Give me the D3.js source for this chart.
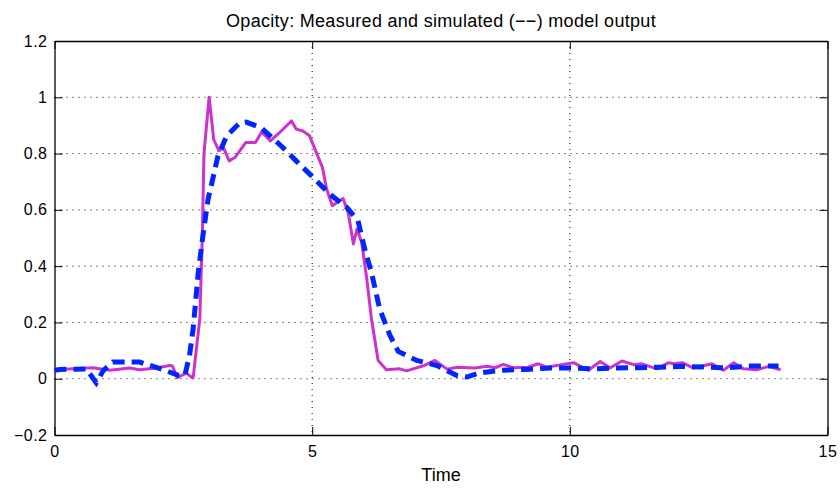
<!DOCTYPE html>
<html lang="en">
<head>
<meta charset="UTF-8">
<title>Opacity: Measured and simulated model output</title>
<script src="https://cdnjs.cloudflare.com/ajax/libs/d3/7.8.5/d3.min.js"></script>
<style>
    body { margin: 0; background: #fff; }
    text { font-family: "Liberation Sans", Arial, Helvetica, sans-serif; fill: #000; }
    .grid line { stroke: #000; stroke-width: 1; stroke-dasharray: 1,5; }
</style>
</head>
<body>
<div id="chart"></div>
<script>
    // measured opacity (solid magenta)
    const measuredTime = [0, 0.1, 0.74, 1.07, 1.46, 1.65, 1.98, 2.23, 2.29, 2.38, 2.56, 2.67, 2.69,
        2.82, 2.87, 2.9, 3.0, 3.09, 3.19, 3.28, 3.39, 3.5, 3.71, 3.9, 4.02, 4.19, 4.37, 4.6, 4.69,
        4.82, 4.95, 5.2, 5.28, 5.39, 5.6, 5.7, 5.8, 5.87, 5.96, 6.06, 6.15, 6.28, 6.44, 6.7, 6.83,
        7.16, 7.38, 7.62, 7.82, 8.16, 8.39, 8.55, 8.71, 8.9, 9.19, 9.39, 9.55, 9.84, 10.07, 10.36,
        10.59, 10.78, 11.01, 11.24, 11.4, 11.69, 11.92, 12.02, 12.18, 12.4, 12.76, 12.98, 13.18,
        13.37, 13.63, 13.86, 14.09];
    const measuredValue = [0.03, 0.033, 0.039, 0.03, 0.038, 0.032, 0.038, 0.047, 0.045, 0.004, 0.02, 0.004, 0.003,
        0.213, 0.52, 0.8, 1.0, 0.85, 0.81, 0.82, 0.774, 0.786, 0.839, 0.839, 0.877, 0.845, 0.875, 0.916, 0.887,
        0.88, 0.863, 0.75, 0.674, 0.615, 0.64, 0.59, 0.479, 0.532, 0.485, 0.355, 0.213, 0.065, 0.032, 0.035, 0.028,
        0.046, 0.065, 0.034, 0.041, 0.038, 0.044, 0.039, 0.051, 0.039, 0.041, 0.053, 0.041, 0.05, 0.057, 0.03,
        0.061, 0.038, 0.063, 0.05, 0.053, 0.035, 0.057, 0.053, 0.057, 0.038, 0.053, 0.03, 0.057,
        0.035, 0.032, 0.044, 0.032];

    // simulated model output (dashed blue)
    const simTime = [0, 0.1, 0.62, 0.81, 0.95, 1.13, 1.65, 2.1, 2.4, 2.53, 2.62, 2.69, 2.79, 2.88, 2.98,
        3.07, 3.17, 3.34, 3.59, 3.72, 4.01, 4.4, 4.69, 5.02, 5.34, 5.67, 5.89, 6.02, 6.15, 6.31, 6.51,
        6.67, 7.03, 7.42, 7.8, 8.0, 8.26, 8.65, 9.16, 9.62, 10.0, 10.46, 10.88, 11.33, 11.75, 12.21,
        12.63, 13.05, 13.5, 13.92, 14.05];
    const simValue = [0.03, 0.033, 0.035, -0.015, 0.03, 0.059, 0.059, 0.033, 0.012, 0.012, 0.083, 0.177, 0.378, 0.508, 0.638,
        0.709, 0.79, 0.863, 0.908, 0.912, 0.892, 0.827, 0.774, 0.715, 0.656, 0.609, 0.561, 0.461, 0.378, 0.248, 0.154,
        0.097, 0.065, 0.047, 0.012, 0.006, 0.021, 0.03, 0.033, 0.038, 0.038, 0.035, 0.038, 0.039, 0.041, 0.044,
        0.041, 0.039, 0.045, 0.045, 0.045];

    const xTicks = [0, 5, 10, 15];
    const yTicks = [-0.2, 0, 0.2, 0.4, 0.6, 0.8, 1, 1.2];

    const width = 840, height = 488;
    const margin = {top: 41, right: 12.5, bottom: 53, left: 54.5};
    const w = width - margin.left - margin.right;
    const h = height - margin.top - margin.bottom;

    const svg = d3.select("#chart").append("svg")
        .attr("width", width)
        .attr("height", height);

    const g = svg.append("g")
        .attr("transform", "translate(" + margin.left + "," + margin.top + ")");

    const x = d3.scaleLinear().domain([0, 15]).range([0, w]);
    const y = d3.scaleLinear().domain([-0.2, 1.2]).range([h, 0]);

    // dotted grid
    g.append("g").attr("class", "grid")
        .selectAll("line").data(xTicks.slice(1, -1)).enter().append("line")
        .attr("x1", d => x(d)).attr("x2", d => x(d))
        .attr("y1", 0).attr("y2", h);
    g.append("g").attr("class", "grid")
        .selectAll("line").data(yTicks.slice(1, -1)).enter().append("line")
        .attr("y1", d => y(d)).attr("y2", d => y(d))
        .attr("x1", 0).attr("x2", w);

    // axes, matlab style: ticks point inward, box on
    const fmt = d => d < 0 ? "\u2212" + Math.abs(d) : String(d);

    const xAxis = g.append("g")
        .attr("transform", "translate(0," + h + ")")
        .call(d3.axisBottom(x).tickValues(xTicks).tickSizeInner(-8).tickSizeOuter(0).tickPadding(11).tickFormat(fmt));
    const xTop = g.append("g")
        .call(d3.axisTop(x).tickValues(xTicks).tickSizeInner(-8).tickSizeOuter(0).tickFormat(""));
    const yAxis = g.append("g")
        .call(d3.axisLeft(y).tickValues(yTicks).tickSizeInner(-8).tickSizeOuter(0).tickPadding(7).tickFormat(fmt));
    const yRight = g.append("g")
        .attr("transform", "translate(" + w + ",0)")
        .call(d3.axisRight(y).tickValues(yTicks).tickSizeInner(-8).tickSizeOuter(0).tickFormat(""));

    [xAxis, xTop, yAxis, yRight].forEach(a => {
        a.select(".domain").attr("stroke", "#000").attr("stroke-width", 1.3);
        a.selectAll(".tick line").attr("stroke", "#000");
        a.selectAll("text").style("font-size", "16px").style("letter-spacing", "0.5px").attr("fill", "#000");
    });

    // measured
    const measured = measuredTime.map((t, i) => [t, measuredValue[i]]);
    const simulated = simTime.map((t, i) => [t, simValue[i]]);
    const line = d3.line().x(d => x(d[0])).y(d => y(d[1]));

    g.append("path")
        .datum(measured)
        .attr("fill", "none")
        .attr("stroke", "#cc33cc")
        .attr("stroke-width", 3)
        .attr("stroke-linejoin", "round")
        .attr("d", line);

    g.append("path")
        .datum(simulated)
        .attr("fill", "none")
        .attr("stroke", "#0026ff")
        .attr("stroke-width", 5)
        .attr("stroke-dasharray", "12,7")
        .attr("d", line);

    // labels
    svg.append("text")
        .attr("x", margin.left + w / 2)
        .attr("y", 26.5)
        .attr("text-anchor", "middle")
        .style("font-size", "18px")
        .style("letter-spacing", "0.3px")
        .text("Opacity: Measured and simulated (\u2212\u2212) model output");

    svg.append("text")
        .attr("x", margin.left + w / 2)
        .attr("y", 481)
        .attr("text-anchor", "middle")
        .style("font-size", "18px")
        .text("Time");
</script>
</body>
</html>
